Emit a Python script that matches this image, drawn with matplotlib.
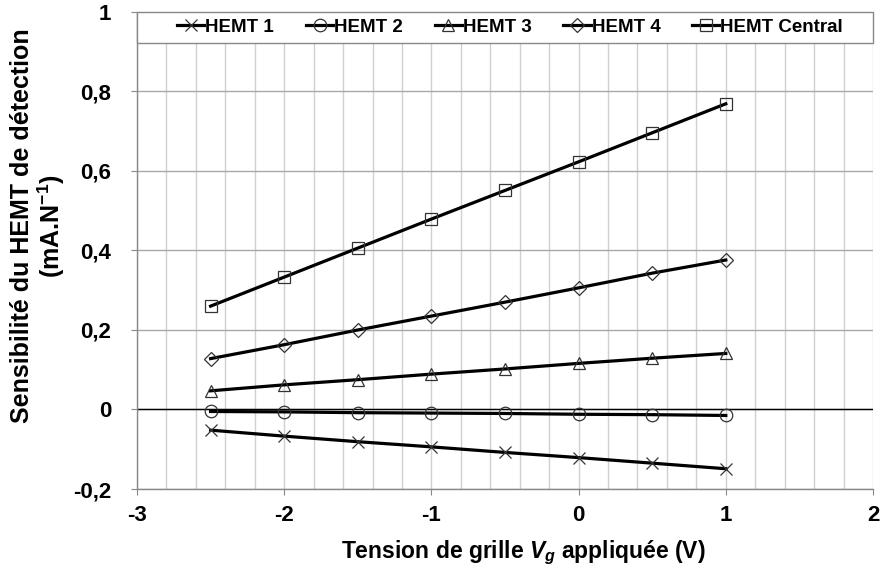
import matplotlib
matplotlib.use('Agg')
import matplotlib.pyplot as plt
from matplotlib.patches import Rectangle
from matplotlib.ticker import MultipleLocator, FuncFormatter

plt.rcParams['font.family'] = 'Liberation Sans'
plt.rcParams['font.weight'] = 'bold'
plt.rcParams['mathtext.fontset'] = 'custom'
plt.rcParams['mathtext.rm'] = 'Liberation Sans:bold'
plt.rcParams['mathtext.it'] = 'Liberation Sans:italic:bold'
plt.rcParams['mathtext.bf'] = 'Liberation Sans:bold'

# Grid voltage (V)
vg = [-2.5, -2.0, -1.5, -1.0, -0.5, 0.0, 0.5, 1.0]

# Sensitivity (mA/N)
hemt1 = [-0.052, -0.067, -0.081, -0.094, -0.108, -0.121, -0.135, -0.149]
hemt2 = [-0.005, -0.006, -0.008, -0.009, -0.010, -0.012, -0.013, -0.015]
hemt3 = [0.047, 0.062, 0.075, 0.089, 0.102, 0.116, 0.129, 0.141]
hemt4 = [0.128, 0.163, 0.200, 0.235, 0.270, 0.306, 0.343, 0.376]
hemt_central = [0.260, 0.333, 0.406, 0.479, 0.551, 0.623, 0.696, 0.769]

series = [
    ('HEMT 1', hemt1, 'x'),
    ('HEMT 2', hemt2, 'o'),
    ('HEMT 3', hemt3, '^'),
    ('HEMT 4', hemt4, 'D'),
    ('HEMT Central', hemt_central, 's'),
]

fig = plt.figure(figsize=(8.82, 5.72), dpi=100)
ax = fig.add_axes([0.1553, 0.1451, 0.8345, 0.834])

for label, vals, mk in series:
    ms = 7 if mk == 'D' else 9
    ax.plot(vg, vals, color='black', lw=2.3, marker=mk, ms=ms,
            mfc='none', mec='#333333', mew=0.9, label=label, zorder=3)

ax.axhline(0, color='black', lw=1.0, zorder=2)

ax.set_xlim(-3, 2)
ax.set_ylim(-0.2, 1)
ax.xaxis.set_major_locator(MultipleLocator(1))
ax.xaxis.set_minor_locator(MultipleLocator(0.2))
ax.yaxis.set_major_locator(MultipleLocator(0.2))

fmt = FuncFormatter(lambda v, p: ('%g' % round(v, 2)).replace('.', ','))
ax.xaxis.set_major_formatter(fmt)
ax.yaxis.set_major_formatter(fmt)

ax.grid(which='both', axis='x', color='#d0d0d0', lw=1.0)
ax.grid(which='major', axis='y', color='#a8a8a8', lw=1.0)
ax.set_axisbelow(True)

for s in ['top', 'right']:
    ax.spines[s].set_visible(False)
for s in ['left', 'bottom']:
    ax.spines[s].set_color('#888888')
    ax.spines[s].set_linewidth(1.0)

ax.tick_params(which='major', length=4.5, color='#888888', labelsize=16)
ax.tick_params(axis='y', pad=14)
ax.tick_params(axis='x', pad=7)
ax.tick_params(which='minor', length=0)

ax.set_xlabel('Tension de grille $V_g$ appliquée (V)', fontsize=16.5,
              fontweight='bold')
ax.xaxis.set_label_coords(0.525, -0.105)
ax.xaxis.label.set_va('top')

fig.text(0.0435, 0.605, 'Sensibilité du HEMT de détection\n(mA.N$^{-1}$)',
         rotation=90, ha='center', va='center', multialignment='center',
         fontsize=18, fontweight='bold', linespacing=1.05)

# legend strip across the top of the plot area
ax.add_patch(Rectangle((0, 0.935), 1, 0.065, transform=ax.transAxes,
                       facecolor='white', edgecolor='#888888', lw=1.0,
                       clip_on=False, zorder=5))
leg = ax.legend(loc='center', bbox_to_anchor=(0.507, 0.9675),
                ncol=5, frameon=False, fontsize=13.5,
                handlelength=1.45, handletextpad=0.05, borderaxespad=0,
                borderpad=0, columnspacing=1.7)
leg.set_zorder(6)

fig.savefig('out.png', dpi=100)
